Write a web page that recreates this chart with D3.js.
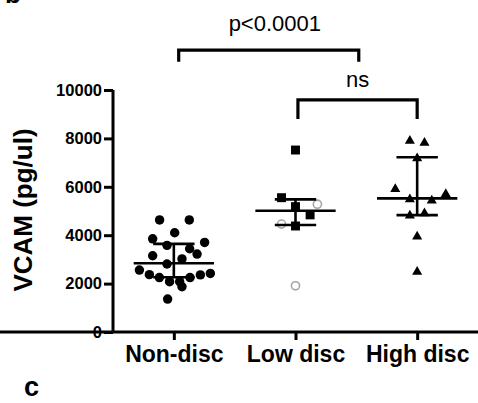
<!DOCTYPE html>
<html>
<head>
<meta charset="utf-8">
<script src="https://cdn.jsdelivr.net/npm/d3@7"></script>
<style>
  html, body { margin: 0; padding: 0; background: #fff; }
  svg { display: block; }
  text { font-family: "Liberation Sans", Arial, Helvetica, sans-serif; fill: #000; }
</style>
</head>
<body>
<svg id="chart" width="478" height="403"></svg>
<script>
// Groups on the x axis
const categories = ["Non-disc", "Low disc", "High disc"];
const yTicks = [0, 2000, 4000, 6000, 8000, 10000];

// VCAM concentrations (pg/ul) per subject
const nonDiscValues = [4630, 4630, 4100, 3850, 3580, 3700, 3440, 3220, 3150, 3020, 2810,
                       2560, 2370, 2250, 2080, 2080, 1870, 2250, 2360, 2420, 1360];
const lowDiscValues = [7520, 5550, 5180, 4840, 4380];        // filled squares
const lowDiscOpenValues = [5280, 4460, 1910];                // open grey circles
const highDiscValues = [7900, 7820, 7180, 5910, 5700, 5480, 5430, 4810, 4900, 3940, 2490];

// Horizontal spread of the dots within each group (fraction of group spacing)
const nonDiscSpread = [-0.117, 0.127, 0.007, -0.174, -0.056, 0.253, 0.130, 0.191, -0.174, 0.067, -0.056,
                       -0.283, -0.201, -0.119, -0.035, 0.048, 0.067, 0.133, 0.218, 0.300, -0.051];
const lowDiscSpread = [0, -0.115, 0, 0.12, 0];
const lowDiscOpenSpread = [0.18, -0.115, 0];
const highDiscSpread = [-0.06, 0.06, 0, -0.18, 0.235, -0.06, 0.12, -0.06, 0.06, 0, 0];

// Median and interquartile range per group
const medians = [2840, 5010, 5520];
const q1 = [2260, 4420, 4830];
const q3 = [3640, 5480, 7220];

// Significance brackets: group-index span, height (pg/ul), label
const bracketFrom = [0.04, 1.02];
const bracketTo = [1.52, 2.0];
const bracketTop = [11650, 9590];
const bracketFoot = [11170, 8800];
const bracketLabels = ["p<0.0001", "ns"];
const bracketLabelPos = [0.83, 1.51];

const svg = d3.select("#chart");

const x = d3.scalePoint().domain(categories).range([113, 478]).padding(0.5);
const step = x.step();
const xi = d3.scaleLinear().domain([0, 1]).range([x(categories[0]), x(categories[1])]);
const y = d3.scaleLinear().domain([0, 10000]).range([332, 90]);

// Axes
const yAxis = svg.append("g")
  .attr("transform", "translate(113,0)")
  .call(d3.axisLeft(y).tickValues(yTicks).tickSize(9).tickPadding(2).tickFormat(d3.format("d")));
const xAxis = svg.append("g")
  .attr("transform", "translate(0,332)")
  .call(d3.axisBottom(x).tickSize(8).tickPadding(6));

[yAxis, xAxis].forEach(g => {
  g.select(".domain").attr("stroke", "#000").attr("stroke-width", 3);
  g.selectAll(".tick line").attr("stroke", "#000").attr("stroke-width", 3);
});
// plain axis lines without the outer tick ends
yAxis.select(".domain").attr("d", `M0,${y(10000)}V${y(0)}`);
xAxis.select(".domain").attr("d", `M-1.5,0H${478}`);

yAxis.selectAll(".tick text")
  .attr("font-size", 16.5).attr("font-weight", "bold").attr("fill", "#000");
xAxis.selectAll(".tick text")
  .attr("font-size", 23).attr("font-weight", "bold").attr("fill", "#000");

// Y axis title
svg.append("text")
  .attr("transform", `translate(32,${(y(0) + y(10000)) / 2 - 1}) rotate(-90)`)
  .attr("text-anchor", "middle")
  .attr("font-size", 26).attr("font-weight", "bold")
  .text("VCAM (pg/ul)");

// Dots
const plot = svg.append("g");
function dots(values, spread, cat, type, size, filled) {
  const sym = d3.symbol().type(type).size(size);
  plot.selectAll(null).data(values).enter().append("path")
    .attr("d", sym)
    .attr("transform", (d, i) => `translate(${x(cat) + spread[i] * step},${y(d)})`)
    .attr("fill", filled ? "#000" : "none")
    .attr("stroke", filled ? "none" : "#a6a6a6")
    .attr("stroke-width", filled ? 0 : 1.6);
}
dots(nonDiscValues, nonDiscSpread, categories[0], d3.symbolCircle, 70, true);
dots(lowDiscValues, lowDiscSpread, categories[1], d3.symbolSquare, 80, true);
dots(lowDiscOpenValues, lowDiscOpenSpread, categories[1], d3.symbolCircle, 52, false);
dots(highDiscValues, highDiscSpread, categories[2], d3.symbolTriangle, 44, true);

// Median lines with interquartile whiskers
const stats = svg.append("g").attr("stroke", "#000").attr("stroke-width", 2.6);
categories.forEach((c, i) => {
  const cx = x(c);
  stats.append("line").attr("x1", cx - 0.33 * step).attr("x2", cx + 0.33 * step)
    .attr("y1", y(medians[i])).attr("y2", y(medians[i]));
  stats.append("line").attr("x1", cx).attr("x2", cx)
    .attr("y1", y(q3[i])).attr("y2", y(q1[i]));
  [q1[i], q3[i]].forEach(v => {
    stats.append("line").attr("x1", cx - 0.17 * step).attr("x2", cx + 0.17 * step)
      .attr("y1", y(v)).attr("y2", y(v));
  });
});

// Significance brackets
bracketLabels.forEach((lab, i) => {
  const x0 = xi(bracketFrom[i]), x1 = xi(bracketTo[i]);
  svg.append("path")
    .attr("d", `M${x0},${y(bracketFoot[i])}V${y(bracketTop[i])}H${x1}V${y(bracketFoot[i])}`)
    .attr("fill", "none").attr("stroke", "#000").attr("stroke-width", 3.2);
  svg.append("text")
    .attr("x", xi(bracketLabelPos[i]))
    .attr("y", y(bracketTop[i]) - (i === 0 ? 19 : 13))
    .attr("text-anchor", "middle")
    .attr("font-size", 22)
    .text(lab);
});

// Panel letters and the start of the next panel
svg.append("text").attr("x", 5).attr("y", 3).attr("font-size", 26).attr("font-weight", "bold").text("b");
svg.append("text").attr("x", 24).attr("y", 396).attr("font-size", 27).attr("font-weight", "bold").text("c");
svg.append("text").attr("x", 280).attr("y", 417.5).attr("text-anchor", "middle").attr("font-size", 22).text("p<0.0001");
</script>
</body>
</html>
